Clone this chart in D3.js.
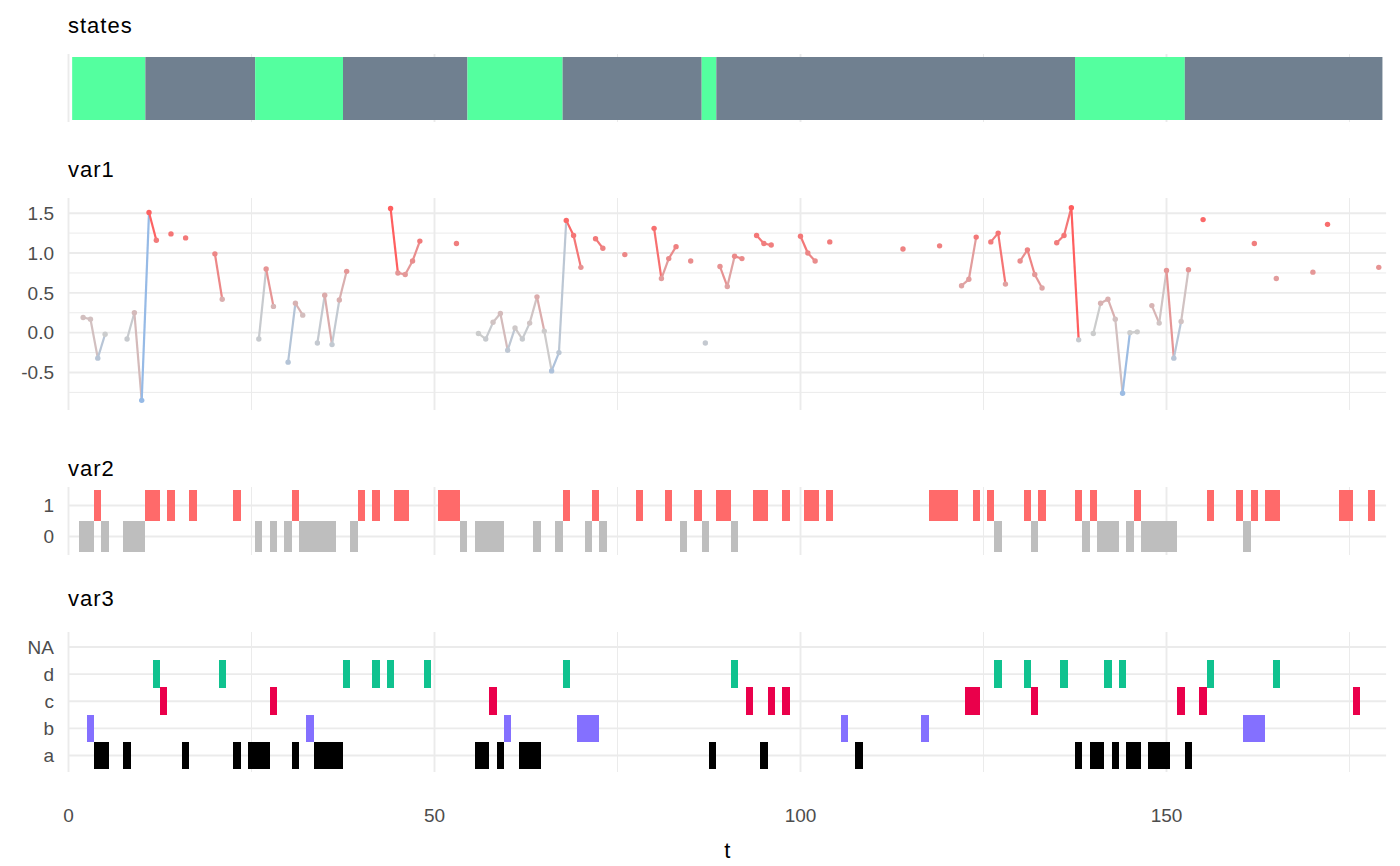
<!DOCTYPE html>
<html><head><meta charset="utf-8">
<script src="https://cdn.jsdelivr.net/npm/d3@7/dist/d3.min.js"></script>
<style>body{margin:0;background:#fff} svg{display:block;font-family:"Liberation Sans",Arial,sans-serif}</style>
</head><body><svg id="c" width="1400" height="866"></svg>
<script>
// ---------------- data ----------------
const stateRunStart = [1, 11, 26, 38, 55, 68, 87, 89, 138, 153];
const stateRunEnd   = [10, 25, 37, 54, 67, 86, 88, 137, 152, 179];
const stateRunLabel = ["S1","S2","S1","S2","S1","S2","S1","S2","S1","S2"];
const stateNames = ["S1","S2"];
const stateColors = ["#54FF9F","#708090"];

const var1T = [2,3,4,5, 8,9,10,11,12, 14, 16, 20,21, 26,27,28, 30,31,32, 34,35,36,37,38,
  44,45,46,47,48, 53, 56,57,58,59,60,61,62,63,64,65,66,67,68,69,70, 72,73, 76, 80,81,82,83, 85, 87,
  89,90,91,92, 94,95,96, 100,101,102, 104, 114, 119, 122,123,124, 126,127,128, 130,131,132,133,
  135,136,137,138, 140,141,142,143,144,145,146, 148,149,150,151,152,153, 155, 162, 165, 170, 172, 179];
const var1V = [0.19,0.17,-0.32,-0.02, -0.08,0.25,-0.85,1.51,1.16, 1.24, 1.19, 0.99,0.42, -0.08,0.80,0.33, -0.37,0.37,0.22, -0.13,0.47,-0.15,0.41,0.77,
  1.56,0.75,0.73,0.90,1.15, 1.12, -0.01,-0.08,0.13,0.24,-0.22,0.06,-0.08,0.12,0.45,0.02,-0.48,-0.25,1.41,1.22,0.82, 1.18,1.06, 0.98, 1.31,0.68,0.93,1.08, 0.90, -0.13,
  0.83,0.58,0.96,0.93, 1.22,1.12,1.10, 1.21,1.00,0.90, 1.14, 1.05, 1.09, 0.59,0.67,1.20, 1.14,1.25,0.61, 0.90,1.04,0.73,0.56,
  1.13,1.22,1.57,-0.09, -0.01,0.37,0.42,0.17,-0.76,0.00,0.01, 0.34,0.12,0.78,-0.32,0.14,0.79, 1.42, 1.12, 0.68, 0.76, 1.36, 0.82];
const var1Ticks = [-0.5, 0, 0.5, 1, 1.5];
const var1Minor = [-0.75, -0.25, 0.25, 0.75, 1.25];
const var1Palette = ["#96BAE6", "#CCCCCC", "#FF5E5E"];

const var2Levels = ["0","1"];
const var2Colors = ["#BEBEBE","#FF6A6A"];
const var2One  = [4,11,12,14,17,23,31,40,42,45,46,51,52,53,68,72,78,82,86,89,90,94,95,98,101,102,104,
  118,119,120,121,124,126,131,133,138,140,146,156,160,162,164,165,174,175,178];
const var2Zero = [2,3,5,8,9,10,26,28,30,32,33,34,35,36,39,54,56,57,58,59,64,67,71,73,84,87,91,
  127,132,139,141,142,143,145,147,148,149,150,151,161];

const var3Levels = ["a","b","c","d","NA"];
const var3Colors = ["#000000","#8470FF","#EA004B","#10C28F","none"];
const var3A = [4,5,8,16,23,25,26,27,31,34,35,36,37,56,57,59,62,63,64,88,95,108,138,140,141,143,145,146,148,149,150,153];
const var3B = [3,33,60,70,71,72,106,117,161,162,163];
const var3C = [13,28,58,93,96,98,123,124,132,152,155,176];
const var3D = [12,21,38,42,44,49,68,91,127,131,136,142,144,156,165];

const xTicks = [0, 50, 100, 150];
const xMinor = [25, 75, 125, 175];

// ---------------- drawing ----------------
const svg = d3.select("#c");
const x = d3.scaleLinear().domain([0, 180]).range([68.5, 1386.1]);
const grid = "#EBEBEB", tickCol = "#4D4D4D";
const titleSize = 22, tickSize = 19;

function vgrid(top, bottom) {
  const g = svg.append("g");
  g.selectAll(".mn").data(xMinor).join("line")
    .attr("x1", d => x(d)).attr("x2", d => x(d)).attr("y1", top).attr("y2", bottom)
    .attr("stroke", grid).attr("stroke-width", 1);
  g.selectAll(".mj").data(xTicks).join("line")
    .attr("x1", d => x(d)).attr("x2", d => x(d)).attr("y1", top).attr("y2", bottom)
    .attr("stroke", grid).attr("stroke-width", 1.9);
}
function hgrid(vals, yf, w) {
  svg.append("g").selectAll("line").data(vals).join("line")
    .attr("x1", x(0)).attr("x2", x(180)).attr("y1", d => yf(d)).attr("y2", d => yf(d))
    .attr("stroke", grid).attr("stroke-width", w);
}
function title(txt, yb) {
  svg.append("text").attr("x", 68).attr("y", yb).attr("font-size", titleSize)
    .attr("letter-spacing", "1px").attr("fill", "#000").text(txt);
}
function ylabels(vals, yf, fmt) {
  svg.append("g").selectAll("text").data(vals).join("text")
    .attr("x", 54).attr("y", d => yf(d)).attr("text-anchor", "end").attr("dy", "0.35em")
    .attr("font-size", tickSize).attr("fill", tickCol).text(fmt);
}

// states
title("states", 33);
vgrid(54, 122);
const stRuns = stateRunStart.map((s, i) => ({s, e: stateRunEnd[i], k: stateRunLabel[i]}));
const stColor = d3.scaleOrdinal().domain(stateNames).range(stateColors);
svg.append("g").selectAll("rect").data(stRuns).join("rect")
  .attr("x", d => x(d.s - 0.5)).attr("width", d => x(d.e + 0.5) - x(d.s - 0.5))
  .attr("y", 57).attr("height", 63).attr("fill", d => stColor(d.k));

// var1
title("var1", 177);
const vmin = d3.min(var1V), vmax = d3.max(var1V), vr = vmax - vmin;
const y1 = d3.scaleLinear().domain([vmin - 0.05 * vr, vmax + 0.05 * vr]).range([410, 198]);
vgrid(198, 410);
hgrid(var1Minor, y1, 1);
hgrid(var1Ticks, y1, 1.9);
ylabels(var1Ticks, y1, d => d3.format(".1f")(d).replace("−", "-"));
const col1 = d3.scaleLinear().domain([vmin, 0, vmax]).range(var1Palette).interpolate(d3.interpolateRgb);
const pts = var1T.map((t, i) => ({t, v: var1V[i]}));
const segs = [];
for (let i = 0; i < pts.length - 1; i++) if (pts[i + 1].t - pts[i].t === 1) segs.push([pts[i], pts[i + 1]]);
svg.append("g").selectAll("line").data(segs).join("line")
  .attr("x1", d => x(d[0].t)).attr("y1", d => y1(d[0].v))
  .attr("x2", d => x(d[1].t)).attr("y2", d => y1(d[1].v))
  .attr("stroke", d => col1(d[0].v)).attr("stroke-width", 2.2).attr("stroke-linecap", "butt");
svg.append("g").selectAll("circle").data(pts).join("circle")
  .attr("cx", d => x(d.t)).attr("cy", d => y1(d.v)).attr("r", 2.7).attr("fill", d => col1(d.v));

// var2
title("var2", 476);
const y2 = d3.scalePoint().domain(var2Levels).range([536.5, 505.5]);
const h2 = 31.5;
vgrid(487, 555);
hgrid(var2Levels, y2, 1.9);
ylabels(var2Levels, y2, d => d);
const c2 = d3.scaleOrdinal().domain(var2Levels).range(var2Colors);
const v2 = var2One.map(t => ({t, k: "1"})).concat(var2Zero.map(t => ({t, k: "0"})));
svg.append("g").selectAll("rect").data(v2).join("rect")
  .attr("x", d => x(d.t - 0.5)).attr("width", x(1) - x(0))
  .attr("y", d => y2(d.k) - h2 / 2).attr("height", h2).attr("fill", d => c2(d.k))
  .attr("shape-rendering", "crispEdges");

// var3
title("var3", 606);
const y3 = d3.scalePoint().domain(var3Levels).range([755.5, 647]);
const h3 = y3.step() + 0.5;
vgrid(632, 772);
hgrid(var3Levels, y3, 1.9);
ylabels(var3Levels, y3, d => d);
const c3 = d3.scaleOrdinal().domain(var3Levels).range(var3Colors);
const v3 = [].concat(var3A.map(t => ({t, k: "a"})), var3B.map(t => ({t, k: "b"})),
  var3C.map(t => ({t, k: "c"})), var3D.map(t => ({t, k: "d"})));
svg.append("g").selectAll("rect").data(v3).join("rect")
  .attr("x", d => x(d.t - 0.5)).attr("width", x(1) - x(0))
  .attr("y", d => y3(d.k) - h3 / 2).attr("height", h3).attr("fill", d => c3(d.k))
  .attr("shape-rendering", "crispEdges");

// x axis
svg.append("g").selectAll("text").data(xTicks).join("text")
  .attr("x", d => x(d)).attr("y", 822).attr("text-anchor", "middle")
  .attr("font-size", tickSize).attr("fill", tickCol).text(d => d);
svg.append("text").attr("x", (x(0) + x(180)) / 2).attr("y", 858).attr("text-anchor", "middle")
  .attr("font-size", titleSize).attr("fill", "#000").text("t");
</script></body></html>
